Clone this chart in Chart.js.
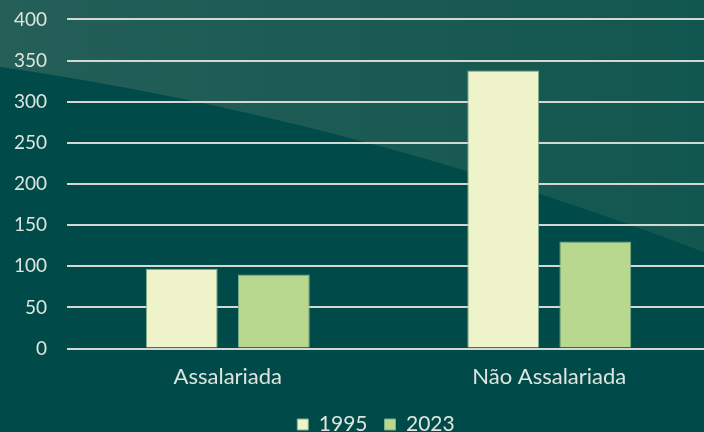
<!DOCTYPE html>
<html>
<head>
<meta charset="utf-8">
<script src="https://cdn.jsdelivr.net/npm/chart.js@4"></script>
<style>
  html, body { margin: 0; padding: 0; overflow: hidden; background: #004b49; }
  #wrap { width: 716px; height: 457px; position: relative; margin-left: -6px; margin-top: -12px; }
</style>
</head>
<body>
<div id="wrap"><canvas id="empregos-chart"></canvas></div>
<script>
const categorias = ['Assalariada', 'Não Assalariada'];
const serieLabels = ['1995', '2023'];
const valores1995 = [97, 338];
const valores2023 = [90, 130];
const cores = ['#eef3c9', '#b8d88f'];
const textColor = '#dde5de';

// fundo com a faixa diagonal mais clara
const fundo = {
    id: 'fundo',
    afterLayout(chart) {
        // legenda um pouco deslocada para a direita, como no original
        chart.legend.left += 24;
        chart.legend.right += 24;
    },
    beforeDraw(chart) {
        const ctx = chart.ctx;
        const w = chart.width, h = chart.height;
        ctx.save();
        ctx.fillStyle = '#004b49';
        ctx.fillRect(0, 0, w, h);
        ctx.translate(6, 12);
        const grad = ctx.createLinearGradient(0, 0, 704, 0);
        grad.addColorStop(0, '#245f58');
        grad.addColorStop(1, '#12574f');
        ctx.fillStyle = grad;
        ctx.beginPath();
        ctx.moveTo(-6, -12);
        ctx.lineTo(-6, 66);
        ctx.quadraticCurveTo(352, 117, 712, 255);
        ctx.lineTo(712, -12);
        ctx.closePath();
        ctx.fill();
        ctx.restore();
    }
};

let dataset = [];
[valores1995, valores2023].forEach(function(item, index) {
    dataset.push({
        label: serieLabels[index],
        data: item,
        backgroundColor: cores[index],
        borderColor: '#7fae8a',
        borderWidth: 1,
        categoryPercentage: 0.573,
        barPercentage: 0.78,
    });
});

new Chart(document.getElementById('empregos-chart'), {
    type: 'bar',
    data: {
        labels: categorias,
        datasets: dataset,
    },
    plugins: [fundo],
    options: {
        responsive: true,
        maintainAspectRatio: false,
        animation: false,
        layout: {
            padding: { left: 0, top: 0, right: 0, bottom: 0 }
        },
        plugins: {
            tooltip: { enabled: false },
            legend: {
                position: 'bottom',
                labels: {
                    color: textColor,
                    font: { family: 'Lato', size: 21 },
                    boxWidth: 11,
                    boxHeight: 11,
                    padding: 17,
                }
            }
        },
        scales: {
            x: {
                grid: { display: false, drawTicks: false },
                border: { display: false },
                ticks: {
                    color: textColor,
                    font: { family: 'Lato', size: 22 },
                    padding: 15,
                },
                afterFit: function(scale) {
                    scale.height -= 8;
                }
            },
            y: {
                min: 0,
                max: 400,
                grid: { color: '#d4d8d4', lineWidth: 2, drawTicks: false },
                border: { display: false },
                ticks: {
                    stepSize: 50,
                    color: textColor,
                    font: { family: 'Lato', size: 19 },
                    padding: 20,
                }
            }
        }
    }
});
</script>
</body>
</html>
